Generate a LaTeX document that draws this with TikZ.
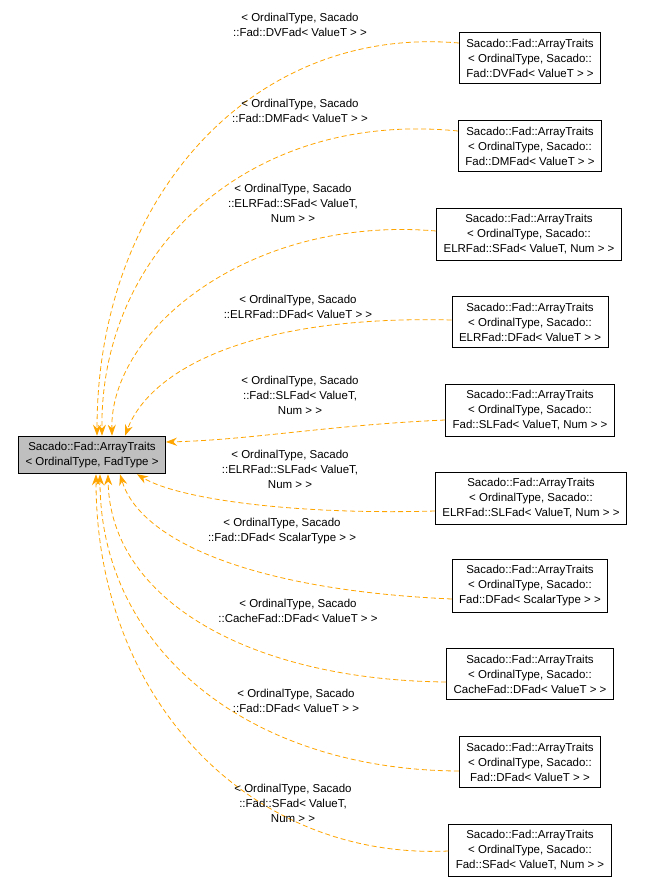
\documentclass[tikz,border=0pt]{standalone}
\usepackage{fontspec}
\setmainfont{Liberation Sans}
\usetikzlibrary{arrows.meta,calc}
\definecolor{edgeorange}{HTML}{FFA500}
\definecolor{basegray}{HTML}{BFBFBF}
\tikzset{
  cls/.style={draw, line width=0.8pt, align=center, inner xsep=7pt, inner ysep=6pt, font=\fontsize{11.5}{15}\selectfont},
  lbl/.style={align=center, font=\fontsize{11.5}{15}\selectfont},
  edge/.style={edgeorange, line width=0.8pt, dash pattern=on 5pt off 3pt, -{Stealth[length=11pt,width=8pt]}}
}
\begin{document}
\begin{tikzpicture}[x=1pt,y=-1pt]
        \useasboundingbox (0,0) rectangle (651,888);

        \node[cls, fill=basegray] (base) at (92,455) {Sacado::Fad::ArrayTraits\\\textless{} OrdinalType, FadType \textgreater{}};

        \node[cls] (t1) at (530,58) {Sacado::Fad::ArrayTraits\\\textless{} OrdinalType, Sacado::\\Fad::DVFad\textless{} ValueT \textgreater{} \textgreater{}};
        \node[cls] (t2) at (530,146) {Sacado::Fad::ArrayTraits\\\textless{} OrdinalType, Sacado::\\Fad::DMFad\textless{} ValueT \textgreater{} \textgreater{}};
        \node[cls] (t3) at (529,234) {Sacado::Fad::ArrayTraits\\\textless{} OrdinalType, Sacado::\\ELRFad::SFad\textless{} ValueT, Num \textgreater{} \textgreater{}};
        \node[cls] (t4) at (530,322) {Sacado::Fad::ArrayTraits\\\textless{} OrdinalType, Sacado::\\ELRFad::DFad\textless{} ValueT \textgreater{} \textgreater{}};
        \node[cls] (t5) at (530,410) {Sacado::Fad::ArrayTraits\\\textless{} OrdinalType, Sacado::\\Fad::SLFad\textless{} ValueT, Num \textgreater{} \textgreater{}};
        \node[cls] (t6) at (531,498) {Sacado::Fad::ArrayTraits\\\textless{} OrdinalType, Sacado::\\ELRFad::SLFad\textless{} ValueT, Num \textgreater{} \textgreater{}};
        \node[cls] (t7) at (530,586) {Sacado::Fad::ArrayTraits\\\textless{} OrdinalType, Sacado::\\Fad::DFad\textless{} ScalarType \textgreater{} \textgreater{}};
        \node[cls] (t8) at (530,674) {Sacado::Fad::ArrayTraits\\\textless{} OrdinalType, Sacado::\\CacheFad::DFad\textless{} ValueT \textgreater{} \textgreater{}};
        \node[cls] (t9) at (530,762) {Sacado::Fad::ArrayTraits\\\textless{} OrdinalType, Sacado::\\Fad::DFad\textless{} ValueT \textgreater{} \textgreater{}};
        \node[cls] (t10) at (530,850) {Sacado::Fad::ArrayTraits\\\textless{} OrdinalType, Sacado::\\Fad::SFad\textless{} ValueT, Num \textgreater{} \textgreater{}};

        \draw[edge] ([yshift=15]t1.west) .. controls (250,25) and (97,200) .. ([xshift=5]base.north);
        \draw[edge] ([yshift=15]t2.west) .. controls (250,110) and (100,250) .. ([xshift=10]base.north);
        \draw[edge] ([yshift=3]t3.west) .. controls (250,215) and (110,330) .. ([xshift=20]base.north);
        \draw[edge] ([yshift=2]t4.west) .. controls (250,315) and (150,370) .. ([xshift=33]base.north);
        \draw[edge] ([yshift=-10]t5.west) .. controls (330,425) and (250,440) .. ([yshift=13]base.east);
        \draw[edge] ([yshift=-13]t6.west) .. controls (300,515) and (180,500) .. ([xshift=45]base.south);
        \draw[edge] ([yshift=-13]t7.west) .. controls (250,590) and (140,540) .. ([xshift=28]base.south);
        \draw[edge] ([yshift=-8]t8.west) .. controls (250,680) and (110,600) .. ([xshift=16]base.south);
        \draw[edge] ([yshift=-9]t9.west) .. controls (250,770) and (100,650) .. ([xshift=8]base.south);
        \draw[edge] ([yshift=-1]t10.west) .. controls (250,860) and (96,700) .. ([xshift=4]base.south);

        \node[lbl] (l1) at (300,25) {\textless{} OrdinalType, Sacado\\::Fad::DVFad\textless{} ValueT \textgreater{} \textgreater{}};
        \node[lbl] (l2) at (300,111) {\textless{} OrdinalType, Sacado\\::Fad::DMFad\textless{} ValueT \textgreater{} \textgreater{}};
        \node[lbl] (l3) at (293,203) {\textless{} OrdinalType, Sacado\\::ELRFad::SFad\textless{} ValueT,\\Num \textgreater{} \textgreater{}};
        \node[lbl] (l4) at (298,307) {\textless{} OrdinalType, Sacado\\::ELRFad::DFad\textless{} ValueT \textgreater{} \textgreater{}};
        \node[lbl] (l5) at (300,395) {\textless{} OrdinalType, Sacado\\::Fad::SLFad\textless{} ValueT,\\Num \textgreater{} \textgreater{}};
        \node[lbl] (l6) at (290,469) {\textless{} OrdinalType, Sacado\\::ELRFad::SLFad\textless{} ValueT,\\Num \textgreater{} \textgreater{}};
        \node[lbl] (l7) at (282,531) {\textless{} OrdinalType, Sacado\\::Fad::DFad\textless{} ScalarType \textgreater{} \textgreater{}};
        \node[lbl] (l8) at (298,611) {\textless{} OrdinalType, Sacado\\::CacheFad::DFad\textless{} ValueT \textgreater{} \textgreater{}};
        \node[lbl] (l9) at (296,701) {\textless{} OrdinalType, Sacado\\::Fad::DFad\textless{} ValueT \textgreater{} \textgreater{}};
        \node[lbl] (l10) at (293,803) {\textless{} OrdinalType, Sacado\\::Fad::SFad\textless{} ValueT,\\Num \textgreater{} \textgreater{}};
\end{tikzpicture}
\end{document}
